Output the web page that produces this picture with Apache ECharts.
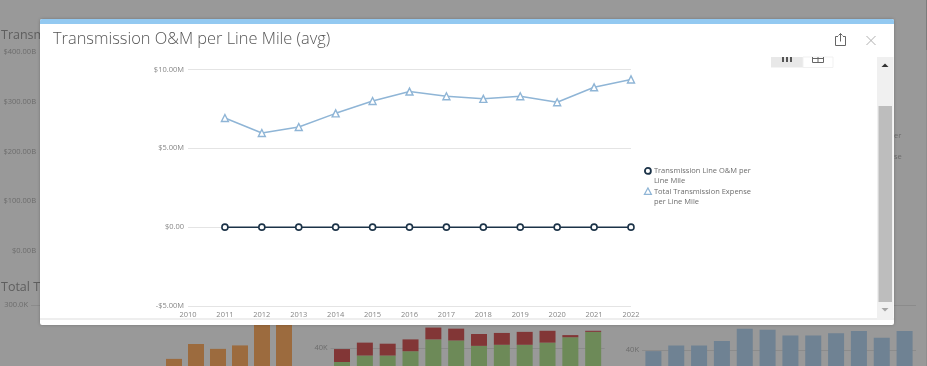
<!DOCTYPE html>
<html>
<head>
<meta charset="utf-8">
<style>html,body{margin:0;padding:0;background:#999}#c{width:927px;height:366px}</style>
<script src="https://cdn.jsdelivr.net/npm/echarts@6/dist/echarts.min.js"></script>
</head>
<body>
<div id="c"></div>
<script>
const title = 'Transmission O&M per Line Mile (avg)';
const years = ['2010','2011','2012','2013','2014','2015','2016','2017','2018','2019','2020','2021','2022'];
const seriesNames = ['Transmission Line O&M per Line Mile','Total Transmission Expense per Line Mile'];
const omPerMile = [null,0,0,0,0,0,0,0,0,0,0,0,0];
const totalPerMile = [null,6.92,5.97,6.35,7.22,8.0,8.6,8.3,8.14,8.3,7.92,8.87,9.37];
const bgYears = ['2011','2012','2013','2014','2015','2016','2017','2018','2019','2020','2021','2022'];
const bgOrange = [null,null,null,null,null,null,112,164,147,159,250,250];
const bgGreen = [27,33,33,37,48,47,42,43,43,45,50,55];
const bgRed = [12,12,11,11,11,11,11,11,12,11,2,1];
const bgBlue = [39,44,44,48,59,58,53,53,55,57,51,57];

const font = '"Open Sans", sans-serif';
const bgText = '#6c6c6c';
const fg = 20;

function bgAxisY(idx, max, interval, fmt) {
  return {gridIndex: idx, type:'value', min:0, max, interval, z:0,
    axisLine:{show:false}, axisTick:{show:false},
    axisLabel:{color:bgText, fontFamily:font, fontSize:7.5, margin:3, formatter:fmt},
    splitLine:{lineStyle:{color:'#8b8b8b', width:1}}};
}
function bgAxisX(idx) {
  return {gridIndex: idx, type:'category', data:bgYears, show:false};
}
function bgBar(idx, data, color, stack) {
  return {type:'bar', name:'bg'+idx+color, xAxisIndex:idx, yAxisIndex:idx, data, stack, barWidth:16,
    itemStyle:{color}, silent:true, animation:false, z:0, legendHoverLink:false};
}
const graphicZ = 5;
const g = el => Object.assign({silent:true, z:graphicZ}, el);

const option = {
  backgroundColor:'#999999',
  animation:false,
  textStyle:{fontFamily:font},
  grid:[
    {left:188, width:443, top:69.5, height:236.5, z:fg, outerBoundsMode:'none'},
    {left:40, width:200, top:52, height:199, outerBoundsMode:'none'},
    {left:31, width:264, top:305, height:86, outerBoundsMode:'none'},
    {left:330.6, width:274, top:305, height:86, outerBoundsMode:'none'},
    {left:642, width:274, top:305, height:90, outerBoundsMode:'none'}
  ],
  xAxis:[
    {gridIndex:0, type:'category', data:years, boundaryGap:false, z:fg,
      axisLine:{show:false}, axisTick:{show:false},
      axisLabel:{color:'#868686', fontFamily:font, fontSize:7.5, margin:5, interval:0, hideOverlap:false},
      splitLine:{show:false}},
    {gridIndex:1, type:'category', data:bgYears, show:false},
    bgAxisX(2), bgAxisX(3), bgAxisX(4)
  ],
  yAxis:[
    {gridIndex:0, type:'value', min:-5, max:10, interval:5, z:fg,
      axisLine:{show:false}, axisTick:{show:false},
      axisLabel:{color:'#868686', fontFamily:font, fontSize:7.5, margin:4,
        formatter:v => v === 0 ? '$0.00' : (v < 0 ? '-$' : '$') + Math.abs(v).toFixed(2) + 'M'},
      splitLine:{lineStyle:{color:'#e4e4e4', width:1}}},
    {gridIndex:1, type:'value', min:0, max:400, interval:100, z:0,
      axisLine:{show:false}, axisTick:{show:false},
      axisLabel:{color:bgText, fontFamily:font, fontSize:7.5, margin:4, formatter:v => '$' + v.toFixed(2) + 'B'},
      splitLine:{show:false}},
    bgAxisY(2, 300, 300, v => v === 300 ? '300.0K' : ''),
    bgAxisY(3, 80, 40, v => v === 40 ? '40K' : ''),
    bgAxisY(4, 80, 40, v => v === 40 ? '40K' : '')
  ],
  legend:{
    orient:'vertical', left:643, top:165, z:fg, padding:0, itemWidth:8, itemHeight:20, itemGap:-1,
    selectedMode:false,
    formatter:n => n === seriesNames[0] ? 'Transmission Line O&M per\nLine Mile' : 'Total Transmission Expense\nper Line Mile',
    textStyle:{color:'#6e6e6e', fontFamily:font, fontSize:7.5, lineHeight:10, padding:[0,0,0,-3]},
    data:[
      {name:seriesNames[0], icon:'path://M7 5A3 3 0 1 1 1 5A3 3 0 1 1 7 5Z M0 0M8 20', itemStyle:{color:'#fff', borderColor:'#1c3348', borderWidth:1.8}},
      {name:seriesNames[1], icon:'path://M4 1.5L7.5 8L0.5 8Z M0 0M8 20', itemStyle:{color:'#fff', borderColor:'#8fb5d6', borderWidth:1.2}}
    ]
  },
  graphic:{
    z:graphicZ,
    elements:[
      g({type:'rect', shape:{x:926,y:0,width:1,height:50}, style:{fill:'#7c7c7c'}}),
      g({type:'rect', shape:{x:926,y:50,width:1,height:316}, style:{fill:'#8e8e8e'}}),
      g({type:'text', x:1, y:29, style:{text:'Transm', fill:'#5e5e5e', font:'12.5px "Open Sans", sans-serif'}}),
      g({type:'text', x:1, y:281, style:{text:'Total T', fill:'#5e5e5e', font:'12.5px "Open Sans", sans-serif'}}),
      g({type:'text', x:894, y:132, style:{text:'er', fill:'#6c6c6c', font:'7.5px "Open Sans", sans-serif'}}),
      g({type:'text', x:894, y:153, style:{text:'se', fill:'#6c6c6c', font:'7.5px "Open Sans", sans-serif'}}),
      g({type:'rect', shape:{x:40,y:19,width:854,height:306,r:2}, style:{fill:'#ffffff', shadowBlur:3, shadowColor:'rgba(0,0,0,0.25)'}}),
      g({type:'rect', shape:{x:40,y:19,width:854,height:5,r:[2,2,0,0]}, style:{fill:'#93c9f1'}}),
      g({type:'rect', shape:{x:40,y:318,width:854,height:2}, style:{fill:'#eeeeee'}}),
      g({type:'text', x:53, y:31, style:{text:title, fill:'#555555', font:'300 16.4px "Open Sans", sans-serif'}}),
      g({type:'rect', shape:{x:771,y:57,width:32,height:10.5}, style:{fill:'#e8e8e8'}}),
      g({type:'rect', shape:{x:803,y:57,width:30,height:10.5}, style:{fill:'#ffffff', stroke:'#f1f1f1'}}),
      g({type:'rect', shape:{x:782,y:57,width:2,height:5}, style:{fill:'#555'}}),
      g({type:'rect', shape:{x:786,y:57,width:2,height:5}, style:{fill:'#555'}}),
      g({type:'rect', shape:{x:790,y:57,width:2,height:5}, style:{fill:'#555'}}),
      g({type:'polyline', shape:{points:[[812.5,57],[812.5,62.5],[823.5,62.5],[823.5,57]]}, style:{fill:'none', stroke:'#666', lineWidth:1}}),
      g({type:'line', shape:{x1:812,y1:58.5,x2:824,y2:58.5}, style:{stroke:'#666', lineWidth:1}}),
      g({type:'line', shape:{x1:818,y1:57,x2:818,y2:62.5}, style:{stroke:'#666', lineWidth:1}}),
      g({type:'polyline', shape:{points:[[838,36.5],[835.5,36.5],[835.5,45.5],[845.5,45.5],[845.5,36.5],[843,36.5]]}, style:{fill:'none', stroke:'#666', lineWidth:1}}),
      g({type:'line', shape:{x1:840.5,y1:33.5,x2:840.5,y2:41.5}, style:{stroke:'#666', lineWidth:1}}),
      g({type:'polyline', shape:{points:[[838.5,35.5],[840.5,33.5],[842.5,35.5]]}, style:{fill:'none', stroke:'#666', lineWidth:1}}),
      g({type:'line', shape:{x1:866.5,y1:36,x2:875.5,y2:45}, style:{stroke:'#b0b0b0', lineWidth:1}}),
      g({type:'line', shape:{x1:875.5,y1:36,x2:866.5,y2:45}, style:{stroke:'#b0b0b0', lineWidth:1}}),
      g({type:'rect', shape:{x:877,y:57,width:16.5,height:263}, style:{fill:'#f0f0f0'}}),
      g({type:'rect', shape:{x:878.5,y:106,width:13.5,height:196}, style:{fill:'#bdbdbd'}}),
      g({type:'polygon', shape:{points:[[881.5,67],[888.5,67],[885,63.5]]}, style:{fill:'#333'}}),
      g({type:'polygon', shape:{points:[[881.5,308],[888.5,308],[885,311.5]]}, style:{fill:'#a5a5a5'}})
    ]
  },
  series:[
    bgBar(2, bgOrange, '#9c6b3e'),
    bgBar(3, bgGreen, '#6d8a58', 'g'),
    bgBar(3, bgRed, '#823636', 'g'),
    bgBar(4, bgBlue, '#6f8293'),
    {type:'line', name:seriesNames[0], xAxisIndex:0, yAxisIndex:0, data:omPerMile, z:fg,
      symbol:'circle', symbolSize:6, showSymbol:true,
      lineStyle:{color:'#1c3348', width:1.5},
      itemStyle:{color:'#fff', borderColor:'#1c3348', borderWidth:1.6}},
    {type:'line', name:seriesNames[1], xAxisIndex:0, yAxisIndex:0, data:totalPerMile, z:fg,
      symbol:'triangle', symbolSize:7, showSymbol:true,
      lineStyle:{color:'#8fb5d6', width:1.5},
      itemStyle:{color:'#fff', borderColor:'#8fb5d6', borderWidth:1.4}}
  ]
};
const chart = echarts.init(document.getElementById('c'), null, {renderer:'canvas'});
chart.setOption(option);
</script>
</body>
</html>
